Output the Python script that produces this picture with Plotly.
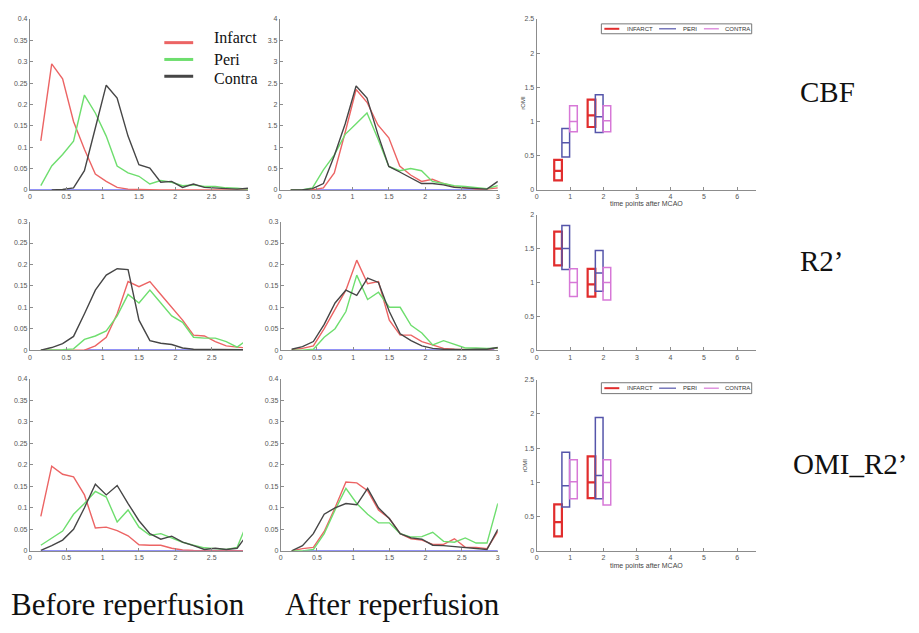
import plotly.graph_objects as go

# page body has an 8px default margin; figure is sized to fit the 919x633 window
PAD = 8
W, H = 919 - 2 * PAD, 633 - 2 * PAD


def px(xp):
    return (xp - PAD) / W


def py(yp):
    return 1 - (yp - PAD) / H


# ---------------- data ----------------
HIST_X = [0.15, 0.3, 0.45, 0.6, 0.75, 0.9, 1.05, 1.2, 1.35, 1.5,
          1.65, 1.8, 1.95, 2.1, 2.25, 2.4, 2.55, 2.7, 2.85, 3.0]

# CBF before reperfusion
cbf_before_infarct = [0.115, 0.295, 0.26, 0.16, 0.095, 0.037, 0.02, 0.006, 0.002, 0.001,
                      0.001, 0, 0, 0, 0, 0, 0, 0, 0, 0]
cbf_before_peri = [0.01, 0.056, 0.083, 0.114, 0.222, 0.18, 0.126, 0.056, 0.04, 0.032,
                   0.014, 0.022, 0.018, 0.01, 0.012, 0.008, 0.008, 0.005, 0.004, 0.002]
cbf_before_contra = [None, 0.0, 0.001, 0.005, 0.045, 0.145, 0.245, 0.215, 0.126, 0.059,
                     0.051, 0.018, 0.02, 0.006, 0.014, 0.006, 0.004, 0.003, 0.002, 0.004]
# CBF after reperfusion
cbf_after_infarct = [0, 0, 0, 0.05, 0.4, 1.35, 2.35, 2.05, 1.52, 1.22,
                     0.56, 0.35, 0.2, 0.25, 0.15, 0.08, 0.05, 0.02, 0.02, 0.05]
cbf_after_peri = [0, 0, 0.05, 0.47, 0.82, 1.3, 1.55, 1.8, 1.2, 0.55,
                  0.45, 0.5, 0.45, 0.2, 0.15, 0.1, 0.08, 0.06, 0.03, 0.1]
cbf_after_contra = [0, 0, 0.03, 0.15, 0.8, 1.55, 2.43, 2.15, 1.3, 0.55,
                    0.42, 0.28, 0.15, 0.15, 0.12, 0.06, 0.05, 0.03, 0.02, 0.2]
# R2' before reperfusion
r2_before_infarct = [0, 0, 0, 0, 0, 0.01, 0.03, 0.085, 0.16, 0.148,
                     0.16, 0.13, 0.1, 0.07, 0.035, 0.033, 0.02, 0.01, 0.007, 0.005]
r2_before_peri = [0, 0, 0.001, 0.003, 0.025, 0.033, 0.045, 0.08, 0.13, 0.11,
                  0.14, 0.11, 0.08, 0.065, 0.03, 0.028, 0.028, 0.02, 0.007, 0.026]
r2_before_contra = [0, 0.006, 0.015, 0.032, 0.085, 0.14, 0.175, 0.19, 0.188, 0.07,
                    0.022, 0.016, 0.013, 0.005, 0.002, 0.002, 0.001, 0.001, 0.001, 0.001]
# R2' after reperfusion
r2_after_infarct = [0.001, 0.004, 0.01, 0.05, 0.095, 0.14, 0.21, 0.155, 0.16, 0.07,
                    0.035, 0.035, 0.02, 0.012, 0.004, 0.002, 0.001, 0.001, 0.002, 0.005]
r2_after_peri = [0, 0, 0.002, 0.03, 0.05, 0.09, 0.175, 0.118, 0.135, 0.1,
                 0.1, 0.058, 0.04, 0.012, 0.022, 0.014, 0.005, 0.005, 0.004, 0.005]
r2_after_contra = [0.002, 0.008, 0.02, 0.06, 0.11, 0.14, 0.128, 0.168, 0.158, 0.09,
                   0.038, 0.022, 0.01, 0.004, 0.002, 0.001, 0.001, 0.002, 0.002, 0.006]
# OMI_R2' before reperfusion
omi_before_infarct = [0.08, 0.197, 0.178, 0.172, 0.13, 0.053, 0.055, 0.047, 0.035, 0.014,
                      0.013, 0.013, 0.006, 0.002, 0.001, 0.001, 0.001, 0, 0, 0]
omi_before_peri = [0.013, 0.03, 0.046, 0.085, 0.11, 0.138, 0.125, 0.067, 0.095, 0.055,
                   0.036, 0.04, 0.03, 0.02, 0.013, 0.007, 0.005, 0.003, 0.008, 0.07]
omi_before_contra = [0.001, 0.012, 0.025, 0.05, 0.1, 0.155, 0.13, 0.152, 0.11, 0.07,
                     0.04, 0.027, 0.034, 0.02, 0.012, 0.003, 0.006, 0.003, 0.006, 0.04]
# OMI_R2' after reperfusion
omi_after_infarct = [0, 0.005, 0.008, 0.045, 0.1, 0.16, 0.158, 0.14, 0.095, 0.075,
                     0.04, 0.028, 0.025, 0.015, 0.015, 0.028, 0.008, 0.008, 0.005, 0.045]
omi_after_peri = [0, 0, 0.003, 0.04, 0.095, 0.145, 0.11, 0.085, 0.065, 0.065,
                  0.04, 0.032, 0.033, 0.043, 0.022, 0.02, 0.03, 0.018, 0.018, 0.11]
omi_after_contra = [0, 0.012, 0.04, 0.085, 0.1, 0.11, 0.107, 0.145, 0.1, 0.075,
                    0.04, 0.03, 0.027, 0.013, 0.012, 0.01, 0.008, 0.006, 0.003, 0.05]

# zero baseline (blue) extents per histogram panel
BASE_START = [0.0, 0.45, 0.75, 0.45, 0.15, 0.3]
BASE_END = [1.6, 2.85, 2.95, 2.95, 2.95, 3.0]

HIST_LEGEND = ["Infarct", "Peri", "Contra"]

# box summaries (rOMI) at time points after MCAO
TIMES = [1, 2]
BOX_GROUPS = ["INFARCT", "PERI", "CONTRA"]
cbf_q1 = [[0.14, 0.92], [0.48, 0.84], [0.85, 0.85]]
cbf_med = [[0.28, 1.09], [0.69, 1.07], [1.0, 1.01]]
cbf_q3 = [[0.44, 1.32], [0.9, 1.39], [1.23, 1.23]]
r2_q1 = [[1.25, 0.79], [1.19, 0.87], [0.79, 0.74]]
r2_med = [[1.5, 0.97], [1.5, 1.14], [1.0, 1.0]]
r2_q3 = [[1.75, 1.2], [1.84, 1.47], [1.2, 1.22]]
omi_q1 = [[0.21, 0.77], [0.64, 0.76], [0.76, 0.67]]
omi_med = [[0.42, 1.0], [0.95, 1.1], [1.01, 1.0]]
omi_q3 = [[0.68, 1.38], [1.44, 1.95], [1.33, 1.33]]

ROW_LABELS = ["CBF", "R2\u2019", "OMI_R2\u2019"]
COL_LABELS = ["Before reperfusion", "After reperfusion"]

# ---------------- styles ----------------
HIST_COLORS = ["rgb(236,100,100)", "rgb(110,222,110)", "rgb(70,70,70)"]
BASE_COLOR = "rgb(110,110,245)"
BOX_COLORS = ["rgb(225,45,45)", "rgb(85,85,170)", "rgb(215,120,215)"]
BOX_WIDTHS = [2.2, 1.5, 1.5]
BOX_OFFSETS = [-0.36, -0.13, 0.10]
AXC = "#8c8c8c"
SANS = "Liberation Sans, Arial"
TICKFONT = dict(family=SANS, size=7, color="#555")
SERIF = "Liberation Serif, Times New Roman, serif"
LEG_LINE_Y = [39, 56, 73]
LEG_TEXT_Y = [34, 56, 75]

hist_sets = [
    [cbf_before_infarct, cbf_before_peri, cbf_before_contra],
    [cbf_after_infarct, cbf_after_peri, cbf_after_contra],
    [r2_before_infarct, r2_before_peri, r2_before_contra],
    [r2_after_infarct, r2_after_peri, r2_after_contra],
    [omi_before_infarct, omi_before_peri, omi_before_contra],
    [omi_after_infarct, omi_after_peri, omi_after_contra],
]
box_sets = [(cbf_q1, cbf_med, cbf_q3), (r2_q1, r2_med, r2_q3), (omi_q1, omi_med, omi_q3)]

# panel pixel geometry (window pixels): (x0, x1, ytop, ybottom)
panels = {
    (0, 0): (28, 247, 15, 188), (0, 1): (279, 498, 15, 188), (0, 2): (537, 757, 15, 188),
    (1, 0): (28, 242, 220, 350), (1, 1): (280, 498, 220, 350), (1, 2): (537, 757, 213, 350),
    (2, 0): (28, 242, 379, 553), (2, 1): (280, 498, 379, 553), (2, 2): (537, 757, 380, 553),
}
xranges = {(0, 0): [0, 3], (1, 0): [0, 2.93], (2, 0): [0, 2.93]}
yranges = {
    (0, 0): ([0, 0.4], 0.05), (0, 1): ([0, 4], 0.5), (0, 2): ([0, 2.5], 0.5),
    (1, 0): ([0, 0.3], 0.05), (1, 1): ([0, 0.3], 0.05), (1, 2): ([0, 2], 0.5),
    (2, 0): ([0, 0.4], 0.05), (2, 1): ([0, 0.4], 0.05), (2, 2): ([0, 2.5], 0.5),
}

fig = go.Figure()
layout = {}

for (r, c), (x0, x1, yt, yb) in panels.items():
    idx = r * 3 + c + 1
    sfx = "" if idx == 1 else str(idx)
    yr, dt = yranges[(r, c)]
    if c < 2:
        xr = xranges.get((r, c), [0, 3])
        xdt = 0.5
    else:
        xr = [0, 6.55]
        xdt = 1
    common = dict(showline=True, linecolor=AXC, linewidth=1, ticks="inside", ticklen=3,
                  tickcolor=AXC, showgrid=False, zeroline=False, tickfont=TICKFONT,
                  fixedrange=True)
    layout["xaxis" + sfx] = dict(domain=[px(x0), px(x1)], range=xr, anchor="y" + sfx,
                                 tick0=0, dtick=xdt, **common)
    layout["yaxis" + sfx] = dict(domain=[py(yb), py(yt)], range=yr, anchor="x" + sfx,
                                 tick0=0, dtick=dt, **common)

# histograms
for i, series in enumerate(hist_sets):
    r, c = divmod(i, 2)
    idx = r * 3 + c + 1
    sfx = "" if idx == 1 else str(idx)
    fig.add_trace(go.Scatter(x=[BASE_START[i], BASE_END[i]], y=[0, 0], mode="lines",
                             line=dict(color=BASE_COLOR, width=1.5), showlegend=False,
                             xaxis="x" + sfx, yaxis="y" + sfx, hoverinfo="skip"))
    for k, ys in enumerate(series):
        fig.add_trace(go.Scatter(x=HIST_X, y=ys, mode="lines", name=HIST_LEGEND[k],
                                 line=dict(color=HIST_COLORS[k], width=1.4),
                                 showlegend=False, xaxis="x" + sfx, yaxis="y" + sfx))

# boxes
for r, (q1s, meds, q3s) in enumerate(box_sets):
    idx = r * 3 + 3
    sfx = str(idx)
    for g, gname in enumerate(BOX_GROUPS):
        xs = [t + BOX_OFFSETS[g] for t in TIMES]
        fig.add_trace(go.Box(
            x=xs, q1=q1s[g], median=meds[g], q3=q3s[g],
            lowerfence=q1s[g], upperfence=q3s[g], width=0.23,
            line=dict(color=BOX_COLORS[g], width=BOX_WIDTHS[g]),
            fillcolor="rgba(0,0,0,0)", name=gname, boxpoints=False,
            whiskerwidth=0, showlegend=False, xaxis="x" + sfx, yaxis="y" + sfx))

annotations = []
shapes = []

# histogram legend (top-left panel)
for k, name in enumerate(HIST_LEGEND):
    ly = LEG_LINE_Y[k]
    shapes.append(dict(type="line", xref="paper", yref="paper", x0=px(163), x1=px(192),
                       y0=py(ly), y1=py(ly), line=dict(color=HIST_COLORS[k], width=3)))
    annotations.append(dict(text=name, x=px(211), y=py(LEG_TEXT_Y[k]), xref="paper",
                            yref="paper", xanchor="left", yanchor="middle", showarrow=False,
                            font=dict(family=SERIF, size=16, color="#111")))

# small legends on the box panels
LEG_LINE_X = [(605, 620), (660, 677), (705, 720)]
LEG_TEXT_X = [626, 682, 724]
for (ytop, ybot) in [(20, 30), (383, 394)]:
    shapes.append(dict(type="rect", xref="paper", yref="paper", x0=px(602), x1=px(753),
                       y0=py(ybot), y1=py(ytop), line=dict(color="#777", width=1),
                       fillcolor="white", layer="above"))
    yc = (ytop + ybot) / 2
    for g, gname in enumerate(BOX_GROUPS):
        shapes.append(dict(type="line", xref="paper", yref="paper",
                           x0=px(LEG_LINE_X[g][0]), x1=px(LEG_LINE_X[g][1]),
                           y0=py(yc), y1=py(yc), layer="above",
                           line=dict(color=BOX_COLORS[g], width=2 if g == 0 else 1.2)))
        annotations.append(dict(text=gname, x=px(LEG_TEXT_X[g]), y=py(yc), xref="paper",
                                yref="paper", xanchor="left", yanchor="middle",
                                showarrow=False,
                                font=dict(family=SANS, size=6, color="#333")))

# x titles of box panels
for ypx in [202, 568]:
    annotations.append(dict(text="time points after MCAO", x=px(647), y=py(ypx),
                            xref="paper", yref="paper", xanchor="center", yanchor="middle",
                            showarrow=False, font=dict(family=SANS, size=7, color="#444")))
# y titles of box panels
for ypx, xpx in [(100, 523), (467, 525)]:
    annotations.append(dict(text="rOMI", x=px(xpx), y=py(ypx), xref="paper",
                            yref="paper", xanchor="center", yanchor="middle",
                            showarrow=False, textangle=-90,
                            font=dict(family=SANS, size=6, color="#444")))
# row labels
for lbl, (xpx, ypx) in zip(ROW_LABELS, [(800, 89), (800, 260), (792, 465)]):
    annotations.append(dict(text=lbl, x=px(xpx), y=py(ypx), xref="paper", yref="paper",
                            xanchor="left", yanchor="middle", showarrow=False,
                            font=dict(family=SERIF, size=29, color="#111")))
# column labels
for lbl, xpx in zip(COL_LABELS, [127, 392]):
    annotations.append(dict(text=lbl, x=px(xpx), y=py(607), xref="paper", yref="paper",
                            xanchor="center", yanchor="middle", showarrow=False,
                            font=dict(family=SERIF, size=31, color="#111")))

fig.update_layout(
    width=W, height=H, margin=dict(l=0, r=0, t=0, b=0),
    paper_bgcolor="white", plot_bgcolor="white", boxmode="overlay",
    annotations=annotations, shapes=shapes, showlegend=False,
    **layout,
)

fig.write_html("out.html")
